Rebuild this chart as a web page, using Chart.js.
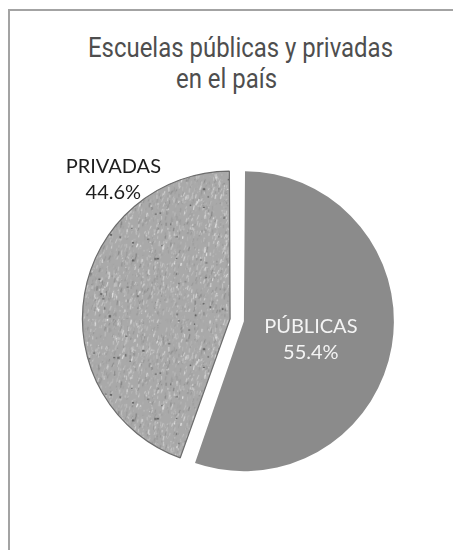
<!DOCTYPE html>
<html>
<head>
<meta charset="utf-8">
<script src="https://cdn.jsdelivr.net/npm/chart.js@4/dist/chart.umd.min.js"></script>
<style>
  html, body { margin: 0; padding: 0; background: #fff; }
  #wrap { position: relative; width: 453px; height: 550px; overflow: hidden; }
  #frame { position: absolute; left: 8px; top: 9px; right: -4px; bottom: -4px;
           border-top: 2px solid #a3a3a3; border-left: 2px solid #a3a3a3; }
  .ttl { position: absolute; font-family: Roboto, "DejaVu Sans", sans-serif; font-weight: 400;
         font-size: 27px; line-height: 26px; color: #4e4e4e; white-space: nowrap;
         transform-origin: 0 0; }
  #chart { position: absolute; left: 0; top: 0; }
</style>
</head>
<body>
<div id="wrap">
  <div id="frame"></div>
  <div class="ttl" id="t1" style="left:88px; top:35px;">Escuelas públicas y privadas</div>
  <div class="ttl" id="t2" style="left:176px; top:66px;">en el país</div>
  <canvas id="chart" width="453" height="550"></canvas>
</div>
<script>
// data
var categorias = ["PÚBLICAS", "PRIVADAS"];
var porcentajes = [55.4, 44.6];

// where each label sits: fraction along the arc, radius factor, text colour
var etiquetaPos = [0.527, 0.743];
var etiquetaRadio = [0.51, 1.25];
var etiquetaColor = ["#f4f4f4", "#1e1e1e"];

// condensed title: squeeze the first line to the reference width, same squeeze on line 2
var t1 = document.getElementById('t1'), t2 = document.getElementById('t2');
var esc = 305 / t1.getBoundingClientRect().width;
t1.style.transform = 'scaleX(' + esc + ')';
t2.style.transform = 'scaleX(' + esc + ')';

// grey stone-like texture for the private slice
function texturaPiedra(){
	var c = document.createElement('canvas');
	c.width = 160; c.height = 160;
	var g = c.getContext('2d');
	g.fillStyle = '#a9a9a9';
	g.fillRect(0, 0, 160, 160);
	var s = 12345;
	function rnd(){ s = (s * 1103515245 + 12345) % 2147483648; return s / 2147483648; }
	for (var i = 0; i < 3000; i++){
		var x = rnd() * 160, y = rnd() * 160;
		var len = 1 + rnd() * 4;
		var ang = -1.35 + (rnd() - 0.5) * 0.5;
		var v = Math.floor(120 + rnd() * 135);
		g.strokeStyle = 'rgba(' + v + ',' + v + ',' + v + ',' + (0.3 + rnd() * 0.5) + ')';
		g.lineWidth = 0.5 + rnd() * 0.9;
		g.beginPath();
		g.moveTo(x, y);
		g.lineTo(x + Math.cos(ang) * len, y + Math.sin(ang) * len);
		g.stroke();
	}
	for (var j = 0; j < 60; j++){
		var v2 = Math.floor(40 + rnd() * 50);
		g.fillStyle = 'rgba(' + v2 + ',' + v2 + ',' + v2 + ',0.7)';
		g.fillRect(rnd() * 160, rnd() * 160, 1 + rnd() * 1.5, 1 + rnd() * 1.5);
	}
	return g.createPattern(c, 'repeat');
}

var etiquetasPlugin = {
	id: 'etiquetas',
	afterDatasetsDraw: function(chart){
		var ctx = chart.ctx;
		var meta = chart.getDatasetMeta(0);
		meta.data.forEach(function(arc, i){
			var p = arc.getProps(['x', 'y', 'startAngle', 'endAngle', 'outerRadius'], true);
			var a = p.startAngle + (p.endAngle - p.startAngle) * etiquetaPos[i];
			var r = (p.outerRadius + 7) * etiquetaRadio[i];
			var cx = p.x + Math.cos(a) * r;
			var cy = p.y + Math.sin(a) * r;
			ctx.save();
			ctx.fillStyle = etiquetaColor[i];
			ctx.font = '20px Lato, "Noto Sans", sans-serif';
			ctx.textAlign = 'center';
			ctx.textBaseline = 'middle';
			ctx.fillText(categorias[i], cx, cy - 13);
			ctx.fillText(porcentajes[i].toFixed(1) + '%', cx, cy + 13);
			ctx.restore();
		});
	}
};

var chart_pie = new Chart(document.getElementById('chart'), {
	type: 'pie',
	data: {
		labels: categorias,
		datasets: [{
			data: porcentajes,
			backgroundColor: ["#8b8b8b", texturaPiedra()],
			borderColor: ["#8b8b8b", "#6c6c6c"],
			borderWidth: [0, 1.2],
			offset: 28,   // chart.js draws offset / 4 and adds it to the radius
			radius: 143
		}]
	},
	options: {
		responsive: false,
		animation: false,
		layout: { padding: { left: 21, right: 0, top: 150, bottom: 60 } },
		plugins: {
			legend: { display: false },
			tooltip: { enabled: false }
		}
	},
	plugins: [etiquetasPlugin]
});
</script>
</body>
</html>
